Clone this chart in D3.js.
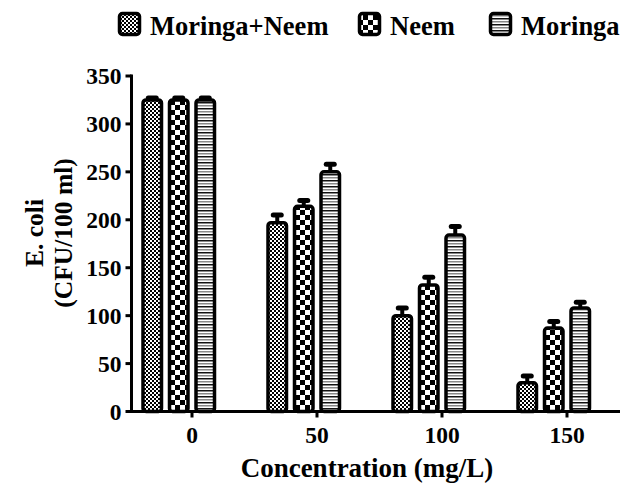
<!DOCTYPE html>
<html>
<head>
<meta charset="utf-8">
<script src="https://cdn.jsdelivr.net/npm/d3@7"></script>
<style>
  html, body { margin: 0; padding: 0; background: #fff; }
  text { font-family: "Liberation Serif", "Times New Roman", serif; font-weight: bold; fill: #000; }
</style>
</head>
<body>
<svg id="chart" width="639" height="486"></svg>
<script>
// ---- data ----
const concentrations = [0, 50, 100, 150];
const seriesNames = ["Moringa+Neem", "Neem", "Moringa"];
const moringaNeemValues = [325, 197, 100, 30];
const moringaNeemErrors = [2, 8, 8, 7];
const neemValues = [325, 214, 132, 87];
const neemErrors = [2, 6, 8, 7];
const moringaValues = [325, 250, 184, 108];
const moringaErrors = [2, 8, 9, 6];
const yTicks = [0, 50, 100, 150, 200, 250, 300, 350];

const seriesValues = [moringaNeemValues, neemValues, moringaValues];
const seriesErrors = [moringaNeemErrors, neemErrors, moringaErrors];
const patternIds = ["pMN", "pN", "pM"];

const svg = d3.select("#chart");
const defs = svg.append("defs");

// fine checker (Moringa+Neem)
const p1 = defs.append("pattern").attr("id", "pMN").attr("patternUnits", "userSpaceOnUse")
  .attr("width", 4).attr("height", 4);
p1.append("rect").attr("width", 4).attr("height", 4).attr("fill", "#fff");
p1.append("rect").attr("x", 0).attr("y", 0).attr("width", 2).attr("height", 2).attr("fill", "#000");
p1.append("rect").attr("x", 2).attr("y", 2).attr("width", 2).attr("height", 2).attr("fill", "#000");

// coarse checker (Neem)
const p2 = defs.append("pattern").attr("id", "pN").attr("patternUnits", "userSpaceOnUse")
  .attr("width", 10).attr("height", 10);
p2.append("rect").attr("width", 10).attr("height", 10).attr("fill", "#fff");
p2.append("rect").attr("x", 0).attr("y", 0).attr("width", 5).attr("height", 5).attr("fill", "#000");
p2.append("rect").attr("x", 5).attr("y", 5).attr("width", 5).attr("height", 5).attr("fill", "#000");

// horizontal stripes (Moringa)
const p3 = defs.append("pattern").attr("id", "pM").attr("patternUnits", "userSpaceOnUse")
  .attr("width", 6).attr("height", 6);
p3.append("rect").attr("width", 6).attr("height", 6).attr("fill", "#fff");
p3.append("rect").attr("x", 0).attr("y", 0).attr("width", 6).attr("height", 1.5).attr("fill", "#111");
p3.append("rect").attr("x", 0).attr("y", 3).attr("width", 6).attr("height", 1.5).attr("fill", "#888");

// ---- scales ----
const x = d3.scaleLinear().domain([0, 150]).range([192, 567]);
const y = d3.scaleLinear().domain([0, 350]).range([411.5, 76]);
const inner = d3.scaleBand().domain([0, 1, 2, 3]).range([-53, 53]).paddingInner(0.17).paddingOuter(0.085);

const axisX0 = 131.5, axisX1 = 620;

// ---- bars ----
const sw = 3.5;
seriesNames.forEach((name, si) => {
  const g = svg.append("g");
  concentrations.forEach((c, ci) => {
    const v = seriesValues[si][ci];
    const e = seriesErrors[si][ci];
    const cx = x(c) + inner(si) + inner.bandwidth() / 2;
    const bw = inner.bandwidth() - sw;
    // error bar stem
    g.append("line")
      .attr("x1", cx).attr("x2", cx)
      .attr("y1", y(v)).attr("y2", y(v + e))
      .attr("stroke", "#000").attr("stroke-width", 4);
    // cap
    g.append("line")
      .attr("x1", cx - 4).attr("x2", cx + 4)
      .attr("y1", y(v + e)).attr("y2", y(v + e))
      .attr("stroke", "#000").attr("stroke-width", 5).attr("stroke-linecap", "round");
    // bar
    g.append("rect")
      .attr("x", cx - bw / 2)
      .attr("y", y(v))
      .attr("width", bw)
      .attr("height", y(0) - y(v))
      .attr("rx", 3).attr("ry", 3)
      .attr("fill", `url(#${patternIds[si]})`)
      .attr("stroke", "#000").attr("stroke-width", sw);
  });
});

// ---- axes ----
const yAxis = svg.append("g");
yAxis.append("line").attr("x1", axisX0).attr("x2", axisX0).attr("y1", y(350) - 1.5).attr("y2", y(0) + 1.5)
  .attr("stroke", "#000").attr("stroke-width", 3);
yTicks.forEach(t => {
  yAxis.append("line").attr("x1", axisX0 - 6).attr("x2", axisX0).attr("y1", y(t)).attr("y2", y(t))
    .attr("stroke", "#000").attr("stroke-width", 3);
  yAxis.append("text").attr("x", axisX0 - 10).attr("y", y(t)).attr("dy", "0.35em")
    .attr("text-anchor", "end").attr("font-size", 23.5).attr("fill", "#000").text(t);
});

const xAxis = svg.append("g");
xAxis.append("line").attr("x1", axisX0).attr("x2", axisX1).attr("y1", y(0)).attr("y2", y(0))
  .attr("stroke", "#000").attr("stroke-width", 3);
concentrations.forEach(c => {
  xAxis.append("line").attr("x1", x(c)).attr("x2", x(c)).attr("y1", y(0)).attr("y2", y(0) + 6)
    .attr("stroke", "#000").attr("stroke-width", 3);
  xAxis.append("text").attr("x", x(c)).attr("y", 443).attr("text-anchor", "middle")
    .attr("font-size", 23.5).attr("fill", "#000").text(c);
});

// ---- titles ----
svg.append("text").attr("x", 367).attr("y", 477).attr("text-anchor", "middle")
  .attr("font-size", 27).attr("fill", "#000").text("Concentration (mg/L)");

const yt = svg.append("text").attr("transform", "translate(0,233) rotate(-90)")
  .attr("text-anchor", "middle").attr("font-size", 25.5).attr("fill", "#000");
yt.append("tspan").attr("x", 0).attr("y", 43).attr("fill", "#000").text("E. coli");
yt.append("tspan").attr("x", 0).attr("y", 72).attr("fill", "#000").text("(CFU/100 ml)");

// ---- legend ----
const legendX = [118, 358, 489];
seriesNames.forEach((name, si) => {
  const lg = svg.append("g").attr("transform", `translate(${legendX[si]},0)`);
  lg.append("rect").attr("x", 1.5).attr("y", 13.5).attr("width", 20).attr("height", 21)
    .attr("rx", 3).attr("ry", 3)
    .attr("fill", `url(#${patternIds[si]})`).attr("stroke", "#000").attr("stroke-width", 3.5);
  lg.append("text").attr("x", 32).attr("y", 35).attr("font-size", 26.5).attr("fill", "#000").text(name);
});
</script>
</body>
</html>
